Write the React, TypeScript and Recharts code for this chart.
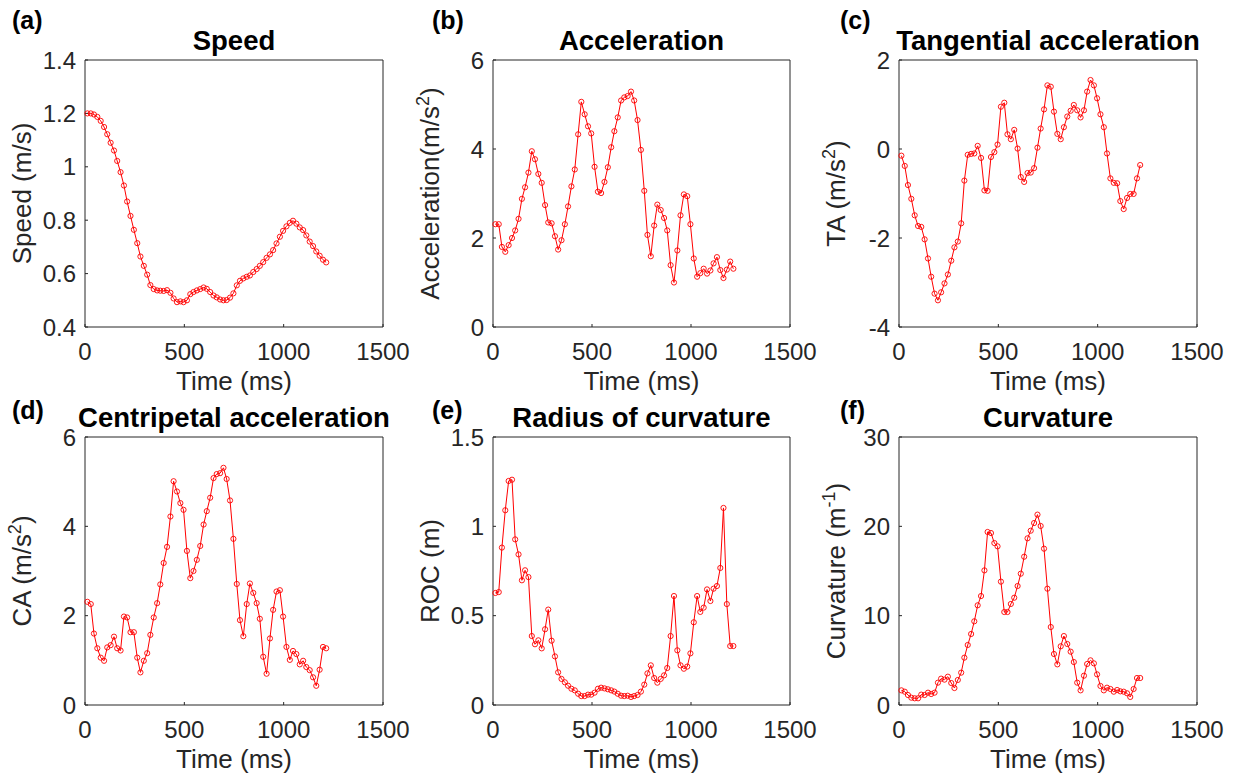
import React from "react";
import { LineChart, Line, XAxis, YAxis } from "recharts";

const FONT = '"Liberation Sans", Arial, Helvetica, sans-serif';
const AXIS = "#262626";

// sample times (ms), 60 Hz
const TIME = [
  12, 29, 45, 62, 79, 96, 112, 129, 146, 162, 179, 196, 212, 229, 246, 263, 279, 296, 313, 329,
  346, 363, 379, 396, 413, 430, 446, 463, 480, 496, 513, 530, 546, 563, 580, 597, 613, 630, 647, 663,
  680, 697, 713, 730, 747, 764, 780, 797, 814, 830, 847, 864, 880, 897, 914, 931, 947, 964, 981, 997,
  1014, 1031, 1047, 1064, 1081, 1098, 1114, 1131, 1148, 1164, 1181, 1198, 1214,
];
const X_TICKS = [0, 500, 1000, 1500];

const SPEED = [
  1.2, 1.2, 1.196, 1.187, 1.172, 1.149, 1.122, 1.09, 1.061, 1.022,
  0.98, 0.93, 0.87, 0.816, 0.764, 0.714, 0.664, 0.629, 0.596, 0.557,
  0.542, 0.537, 0.536, 0.535, 0.538, 0.528, 0.507, 0.493, 0.496, 0.493,
  0.5, 0.523, 0.531, 0.537, 0.542, 0.548, 0.543, 0.531, 0.518, 0.511,
  0.503, 0.5, 0.501, 0.51, 0.526, 0.556, 0.573, 0.582, 0.588, 0.593,
  0.606, 0.617, 0.629, 0.643, 0.659, 0.672, 0.688, 0.713, 0.738, 0.76,
  0.777, 0.79, 0.798, 0.787, 0.773, 0.763, 0.743, 0.72, 0.703, 0.683,
  0.667, 0.652, 0.642,
];
const ACCEL = [
  2.31, 2.31, 1.8, 1.69, 1.84, 2.0, 2.17, 2.43, 2.88, 3.14,
  3.47, 3.95, 3.77, 3.44, 3.24, 2.74, 2.35, 2.33, 2.04, 1.74,
  1.95, 2.31, 2.71, 3.16, 3.54, 4.33, 5.06, 4.78, 4.51, 4.35,
  3.6, 3.04, 3.01, 3.26, 3.59, 4.04, 4.4, 4.71, 5.09, 5.16,
  5.19, 5.29, 5.09, 4.65, 3.98, 3.06, 2.07, 1.59, 2.28, 2.75,
  2.63, 2.45, 2.17, 1.39, 1.0, 1.72, 2.51, 2.98, 2.94, 2.31,
  1.54, 1.13, 1.21, 1.31, 1.2, 1.27, 1.43, 1.57, 1.28, 1.1,
  1.29, 1.47, 1.31,
];
const TA = [
  -0.15, -0.38, -0.81, -1.12, -1.49, -1.73, -1.75, -2.03, -2.46, -2.87,
  -3.25, -3.4, -3.22, -3.02, -2.82, -2.51, -2.21, -2.08, -1.67, -0.71,
  -0.13, -0.11, -0.1, 0.07, -0.2, -0.93, -0.94, -0.18, -0.07, 0.1,
  0.95, 1.04, 0.33, 0.22, 0.43, 0.01, -0.63, -0.74, -0.54, -0.53,
  -0.43, 0.03, 0.46, 0.89, 1.43, 1.4, 0.84, 0.34, 0.22, 0.49,
  0.73, 0.86, 0.99, 0.87, 0.71, 0.87, 1.29, 1.55, 1.43, 1.14,
  0.78, 0.49, -0.1, -0.66, -0.76, -0.77, -1.17, -1.35, -1.1, -1.01,
  -1.01, -0.66, -0.36,
];
const CA = [
  2.31, 2.26, 1.6, 1.27, 1.06, 0.99, 1.29, 1.34, 1.53, 1.27,
  1.22, 1.98, 1.96, 1.63, 1.63, 1.06, 0.73, 0.99, 1.16, 1.57,
  1.96, 2.28, 2.7, 3.18, 3.54, 4.22, 5.01, 4.78, 4.52, 4.37,
  3.45, 2.84, 3.0, 3.25, 3.56, 4.04, 4.34, 4.64, 5.08, 5.17,
  5.19, 5.31, 5.06, 4.58, 3.72, 2.71, 1.9, 1.54, 2.26, 2.72,
  2.51, 2.28, 1.93, 1.08, 0.7, 1.49, 2.13, 2.54, 2.57, 1.98,
  1.3, 1.01, 1.21, 1.14, 0.91, 0.99, 0.85, 0.78, 0.62, 0.43,
  0.79, 1.3, 1.27,
];
const ROC = [
  0.627, 0.632, 0.881, 1.09, 1.254, 1.261, 0.927, 0.843, 0.698, 0.754,
  0.716, 0.386, 0.34, 0.362, 0.317, 0.424, 0.534, 0.36, 0.272, 0.183,
  0.146, 0.127, 0.108, 0.091, 0.082, 0.063, 0.05, 0.05, 0.058, 0.058,
  0.069, 0.091, 0.097, 0.093, 0.088, 0.082, 0.075, 0.063, 0.052, 0.05,
  0.052, 0.045, 0.05, 0.056, 0.075, 0.114, 0.177, 0.222, 0.151, 0.125,
  0.146, 0.166, 0.207, 0.386, 0.61, 0.306, 0.222, 0.203, 0.215, 0.289,
  0.463, 0.61, 0.521, 0.545, 0.647, 0.582, 0.651, 0.666, 0.767, 1.103,
  0.565, 0.33, 0.33,
];
const CURV = [
  1.64, 1.49, 1.12, 0.82, 0.75, 0.75, 1.16, 1.12, 1.38, 1.23,
  1.38, 2.5, 2.95, 2.84, 3.17, 2.46, 1.9, 2.8, 3.62, 5.3,
  6.72, 7.95, 9.37, 11.16, 12.2, 15.07, 19.37, 19.25, 18.13, 17.76,
  13.81, 10.41, 10.41, 11.31, 12.01, 13.32, 14.7, 16.6, 18.66, 19.51,
  20.37, 21.31, 20.04, 17.5, 13.02, 8.73, 5.71, 4.55, 6.57, 7.72,
  6.83, 5.97, 4.81, 2.5, 1.64, 3.28, 4.59, 5.0, 4.66, 3.43,
  2.13, 1.64, 1.94, 1.79, 1.49, 1.68, 1.53, 1.49, 1.31, 0.9,
  1.79, 3.02, 3.02,
];

const sup = (base: string, exp: string) => (
  <>
    {base}
    <tspan dy={-10} fontSize={18}>{exp}</tspan>
    <tspan dy={10}>)</tspan>
  </>
);

const PANELS = [
  { tag: "(a)", title: "Speed", ylab: <>Speed (m/s)</>, values: SPEED, domain: [0.4, 1.4], ticks: [0.4, 0.6, 0.8, 1, 1.2, 1.4], x: 85, y: 60, w: 298, h: 267, tagX: 12 },
  { tag: "(b)", title: "Acceleration", ylab: sup("Acceleration(m/s", "2"), values: ACCEL, domain: [0, 6], ticks: [0, 2, 4, 6], x: 493, y: 60, w: 297, h: 267, tagX: 432 },
  { tag: "(c)", title: "Tangential acceleration", ylab: sup("TA (m/s", "2"), values: TA, domain: [-4, 2], ticks: [-4, -2, 0, 2], x: 899, y: 60, w: 298, h: 267, tagX: 840 },
  { tag: "(d)", title: "Centripetal acceleration", ylab: sup("CA (m/s", "2"), values: CA, domain: [0, 6], ticks: [0, 2, 4, 6], x: 85, y: 437, w: 298, h: 268, tagX: 12 },
  { tag: "(e)", title: "Radius of curvature", ylab: <>ROC (m)</>, values: ROC, domain: [0, 1.5], ticks: [0, 0.5, 1, 1.5], x: 493, y: 437, w: 297, h: 268, tagX: 432 },
  { tag: "(f)", title: "Curvature", ylab: sup("Curvature (m", "-1"), values: CURV, domain: [0, 30], ticks: [0, 10, 20, 30], x: 899, y: 437, w: 298, h: 268, tagX: 840 },
];

function Panel({ p }: { p: (typeof PANELS)[number] }) {
  const data = TIME.map((t, i) => ({ t, v: p.values[i] }));
  const tickStyle = { fontSize: 24, fill: AXIS, fontFamily: FONT };
  return (
    <div style={{ position: "absolute", left: p.x - 85, top: p.y - 60 }}>
      <LineChart width={85 + p.w + 40} height={60 + p.h + 70} data={data}
        margin={{ top: 60, right: 40, bottom: 0, left: 0 }}>
        <XAxis xAxisId="b" dataKey="t" type="number" domain={[0, 1500]} ticks={X_TICKS} interval={0}
          height={70} stroke={AXIS} tickSize={-3} tickMargin={19} tick={tickStyle} />
        <XAxis xAxisId="t" dataKey="t" orientation="top" mirror type="number" domain={[0, 1500]}
          ticks={X_TICKS} interval={0} stroke={AXIS} tickSize={3} tick={false} />
        <YAxis yAxisId="l" type="number" domain={p.domain} ticks={p.ticks} interval={0} width={85}
          stroke={AXIS} tickSize={-3} tickMargin={12} tick={tickStyle} />
        <YAxis yAxisId="r" orientation="right" mirror type="number" domain={p.domain} ticks={p.ticks}
          interval={0} stroke={AXIS} tickSize={3} tick={false} />
        <Line xAxisId="b" yAxisId="l" type="linear" dataKey="v" stroke="#ff0000" strokeWidth={1}
          dot={{ r: 2.6, fill: "none", stroke: "#ff0000", strokeWidth: 0.9 }}
          activeDot={false} isAnimationActive={false} />
      </LineChart>
    </div>
  );
}

export default function App() {
  return (
    <div style={{ position: "absolute", left: 0, top: 0, width: 1242, height: 777, background: "#fff" }}>
      {PANELS.map((p) => <Panel key={p.tag} p={p} />)}
      {/* titles, panel tags and axis labels */}
      <svg width={1242} height={777} style={{ position: "absolute", left: 0, top: 0, pointerEvents: "none" }}
        fontFamily={FONT}>
        {PANELS.map((p) => {
          const cx = p.x + p.w / 2;
          const cy = p.y + p.h / 2;
          const lx = p.x - 54;
          return (
            <g key={p.tag}>
              <text x={p.tagX} y={p.y < 100 ? 29 : 419} fontSize={25} fontWeight="bold" fill="#000">{p.tag}</text>
              <text x={cx} y={p.y - 10} fontSize={27.5} fontWeight="bold" fill="#000" textAnchor="middle">{p.title}</text>
              <text x={cx} y={p.y + p.h + 63} fontSize={26} fill={AXIS} textAnchor="middle">Time (ms)</text>
              <text x={lx} y={cy} fontSize={26} fill={AXIS} textAnchor="middle" transform={`rotate(-90 ${lx} ${cy})`}>{p.ylab}</text>
            </g>
          );
        })}
      </svg>
    </div>
  );
}
